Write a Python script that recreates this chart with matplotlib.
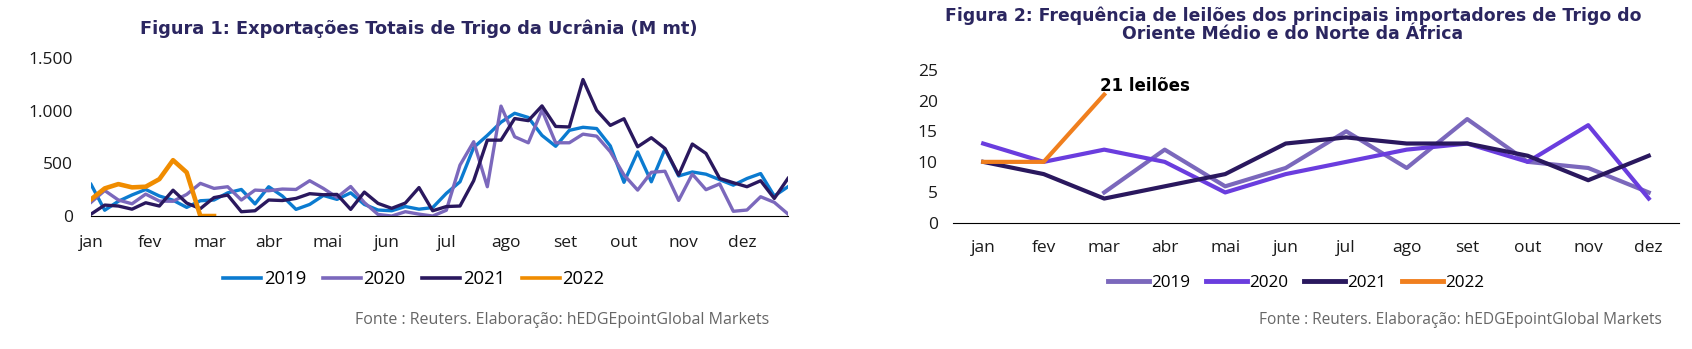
import numpy as np
import matplotlib.pyplot as plt

plt.rcParams['font.family'] = ['Open Sans', 'DejaVu Sans']

meses = ['jan', 'fev', 'mar', 'abr', 'mai', 'jun', 'jul', 'ago', 'set', 'out', 'nov', 'dez']

# Figura 1 - exportacoes semanais (M mt)
exp_2019 = [300, 55, 140, 200, 252, 190, 150, 82, 145, 152, 220, 252, 115, 278, 190, 63,
            110, 195, 158, 220, 110, 57, 50, 90, 65, 80, 215, 325, 650, 765, 890, 975,
            935, 765, 662, 813, 842, 830, 665, 320, 608, 325, 635, 380, 418, 397, 345,
            293, 356, 403, 190, 278]
exp_2020 = [130, 242, 152, 116, 208, 142, 140, 205, 310, 262, 278, 152, 246, 240, 256, 252,
            335, 262, 177, 280, 128, 15, 0, 41, 18, 0, 55, 483, 705, 278, 1043, 752,
            695, 1005, 695, 695, 777, 758, 610, 390, 246, 415, 425, 148, 398, 250, 305,
            45, 57, 183, 130, 19]
exp_2021 = [18, 104, 95, 65, 126, 95, 245, 123, 70, 175, 199, 41, 50, 152, 147, 167,
            212, 202, 205, 63, 227, 120, 73, 123, 270, 50, 90, 95, 335, 720, 720, 925,
            905, 1045, 850, 845, 1295, 1003, 860, 923, 657, 743, 641, 389, 683, 594, 357,
            316, 278, 335, 167, 357]
exp_2022 = [158, 262, 303, 272, 278, 350, 530, 414, 0, 0]

# Figura 2 - leiloes por mes
leil_2019 = [None, None, 5, 12, 6, 9, 15, 9, 17, 10, 9, 5]
leil_2020 = [13, 10, 12, 10, 5, 8, 10, 12, 13, 10, 16, 4]
leil_2021 = [10, 8, 4, 6, 8, 13, 14, 13, 13, 11, 7, 11]
leil_2022 = [10, 10, 21]

titulo_cor = '#2B2660'
fonte = 'Fonte : Reuters. Elaboração: hEDGEpointGlobal Markets'

fig = plt.figure(figsize=(16.92, 3.49), dpi=100)

# ---------- figura 1 ----------
ax1 = fig.add_axes([0.0538, 0.381, 0.4119, 0.453])
semanas = np.arange(len(exp_2019))
ax1.plot(semanas, exp_2019, color='#0B7BD0', lw=2.4, label='2019')
ax1.plot(semanas, exp_2020, color='#7B68BC', lw=2.4, label='2020')
ax1.plot(semanas, exp_2021, color='#2A185E', lw=2.4, label='2021')
ax1.plot(np.arange(len(exp_2022)), exp_2022, color='#F08C00', lw=3.3, label='2022')
ax1.set_xlim(0, len(exp_2019) - 1)
ax1.set_ylim(0, 1500)
ax1.set_yticks([0, 500, 1000, 1500])
ax1.set_yticklabels(['0', '500', '1.000', '1.500'])
ax1.set_xticks(np.arange(12) * len(exp_2019) / 12)
ax1.set_xticklabels(meses)
ax1.tick_params(length=0, labelsize=12.5, colors='#1a1a1a')
ax1.tick_params(axis='y', pad=13)
ax1.tick_params(axis='x', pad=14)
for s in ['top', 'right', 'left']:
    ax1.spines[s].set_visible(False)
ax1.spines['bottom'].set_color('black')
fig.text(419 / 1692, 1 - 29 / 349, 'Figura 1: Exportações Totais de Trigo da Ucrânia (M mt)',
         ha='center', va='center', fontsize=12.8, fontweight='bold', color=titulo_cor,
         family='DejaVu Sans')
leg1 = fig.legend(*ax1.get_legend_handles_labels(), loc='center', bbox_to_anchor=(414 / 1692, 1 - 279 / 349),
                  ncol=4, frameon=False, fontsize=13.3, handlelength=2.05, handletextpad=0.15,
                  columnspacing=0.9)
for h in leg1.get_lines():
    h.set_linewidth(2.6)
fig.text(769 / 1692, 1 - 320 / 349, fonte, ha='right', va='center', fontsize=11.5, color='#666666')

# ---------- figura 2 ----------
ax2 = fig.add_axes([0.5632, 0.361, 0.4291, 0.438])
m = np.arange(12)
l19 = np.array(leil_2019, dtype=float)
ax2.plot(m, l19, color='#7B68BC', lw=3, label='2019')
ax2.plot(m, leil_2020, color='#6A3DDE', lw=3, label='2020')
ax2.plot(m, leil_2021, color='#2A185E', lw=3, label='2021')
ax2.plot(m[:len(leil_2022)], leil_2022, color='#F07F1E', lw=3, label='2022')
ax2.annotate(f'{leil_2022[-1]} leilões', xy=(len(leil_2022) - 1, leil_2022[-1]), xytext=(-3, 6),
             textcoords='offset points', ha='left', va='center', fontsize=12,
             fontweight='bold', family='DejaVu Sans', color='black')
ax2.set_xlim(-0.5, 11.5)
ax2.set_ylim(0, 25)
ax2.set_yticks(range(0, 26, 5))
ax2.set_xticks(m)
ax2.set_xticklabels(meses)
ax2.tick_params(length=0, labelsize=12.5, colors='#1a1a1a')
ax2.tick_params(axis='y', pad=11)
ax2.tick_params(axis='x', pad=12)
for s in ['top', 'right', 'left']:
    ax2.spines[s].set_visible(False)
ax2.spines['bottom'].set_color('black')
fig.text(1293 / 1692, 1 - 25 / 349,
         'Figura 2: Frequência de leilões dos principais importadores de Trigo do\nOriente Médio e do Norte da África',
         ha='center', va='center', fontsize=12.4, fontweight='bold', color=titulo_cor,
         family='DejaVu Sans', linespacing=1.0)
leg2 = fig.legend(*ax2.get_legend_handles_labels(), loc='center', bbox_to_anchor=(1296 / 1692, 1 - 283 / 349),
                  ncol=4, frameon=False, fontsize=12.3, handlelength=2.4, handletextpad=0.1,
                  columnspacing=0.95)
for h in leg2.get_lines():
    h.set_linewidth(3.5)
fig.text(1662 / 1692, 1 - 320 / 349, fonte, ha='right', va='center', fontsize=11.2, color='#666666')

fig.savefig('out.png', dpi=100)
